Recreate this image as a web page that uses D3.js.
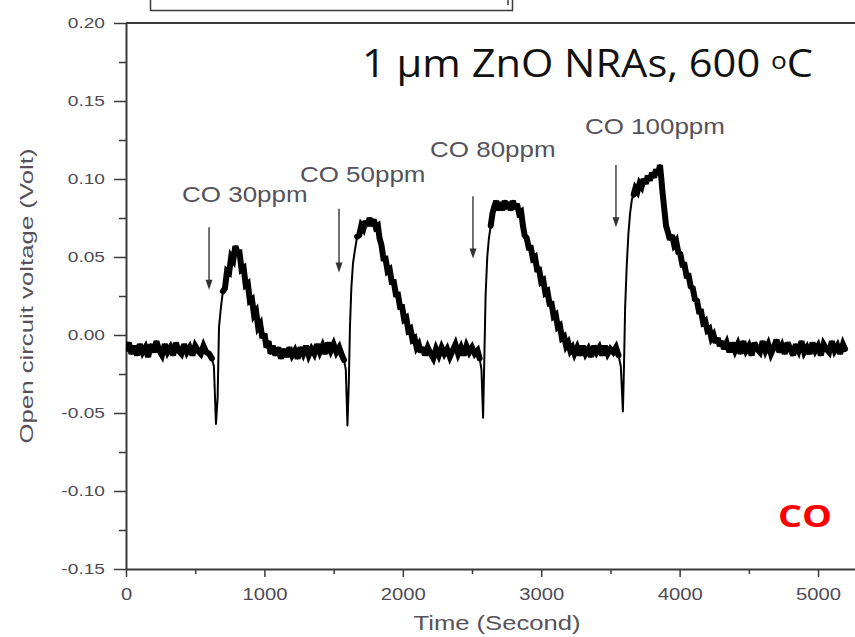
<!DOCTYPE html>
<html lang="en">
  <head>
    <meta charset='utf-8'>
    <script src='https://d3js.org/d3.v7.min.js'></script>
    <title>CO response, 1 um ZnO NRAs</title>
    <style>
      body { margin: 0px; background: #fff; }
      .axis path, .axis line { stroke: #3a3a3a; }
      .axis text {
        fill: #4e4a54;
        font-family: 'Liberation Sans', Arial, sans-serif;
      }
      .axis-label, .note {
        fill: #55525a;
        font-family: 'Liberation Sans', Arial, sans-serif;
      }
    </style>
  </head>
  <body>
    <svg id='chart' width='855' height='637'></svg>
    <script>
      // time (s), open circuit voltage (V)
      const trace = [
        [0,-.009],[20,-.005],[40,-.012],[60,-.007],[80,-.013],[100,-.006],[120,-.011],[140,-.008],
        [160,-.014],[180,-.006],[200,-.011],[220,-.004],[240,-.010],[260,-.013],[280,-.006],[300,-.011],
        [320,-.008],[340,-.013],[360,-.005],[380,-.010],[400,-.012],[420,-.006],[440,-.011],[460,-.008],
        [480,-.013],[500,-.007],[520,-.010],[540,-.012],[560,-.007],[580,-.011],[600,-.012],[620,-.015],
        [635,-.020],[650,-.057],[662,-.040],[672,.005],[685,.017],[700,.028],[715,.030],[730,.041],
        [745,.040],[760,.050],[775,.048],[790,.057],[805,.053],[820,.053],[835,.042],[850,.043],
        [865,.032],[880,.033],[895,.022],[910,.023],[925,.013],[940,.015],[955,.005],[970,.007],
        [985,-.002],[1000,.001],[1015,-.008],[1030,-.004],[1045,-.012],[1060,-.007],
        [1080,-.013],[1100,-.008],[1120,-.015],[1140,-.009],[1160,-.014],[1180,-.008],[1200,-.013],
        [1220,-.010],[1240,-.015],[1260,-.008],[1280,-.012],[1300,-.007],[1320,-.013],[1340,-.009],
        [1360,-.012],[1380,-.006],[1400,-.011],[1420,-.007],[1440,-.012],[1460,-.005],[1480,-.010],
        [1500,-.006],[1520,-.011],[1540,-.008],[1560,-.013],[1575,-.016],[1588,-.022],
        [1600,-.058],[1610,-.030],[1618,.005],[1628,.030],[1640,.046],[1655,.055],[1670,.063],
        [1685,.064],[1700,.070],[1715,.068],[1730,.073],[1745,.070],[1760,.075],[1775,.070],
        [1790,.074],[1805,.069],[1820,.070],[1832,.062],[1845,.058],[1860,.049],[1875,.049],
        [1890,.041],[1905,.042],[1920,.034],[1935,.034],[1950,.026],[1965,.026],[1980,.018],
        [1995,.018],[2010,.010],[2025,.011],[2040,.003],[2055,.004],[2070,-.003],[2085,-.002],
        [2100,-.008],[2115,-.006],[2130,-.011],[2145,-.008],
        [2160,-.013],[2180,-.008],[2200,-.012],[2220,-.015],[2240,-.009],[2260,-.013],[2280,-.008],
        [2300,-.012],[2320,-.009],[2340,-.014],[2360,-.010],[2380,-.006],[2400,-.012],[2420,-.008],
        [2440,-.013],[2460,-.007],[2480,-.011],[2500,-.008],[2520,-.012],[2540,-.010],[2555,-.015],
        [2568,-.022],[2580,-.053],[2590,-.010],[2598,.025],[2610,.050],[2622,.062],[2635,.070],
        [2648,.078],[2660,.082],[2675,.086],[2690,.080],[2705,.085],[2720,.080],[2735,.086],
        [2750,.081],[2765,.085],[2780,.080],[2795,.086],[2810,.081],[2825,.084],[2840,.078],
        [2855,.079],[2868,.070],[2880,.064],[2895,.062],[2910,.056],[2925,.056],[2940,.049],
        [2955,.050],[2970,.042],[2985,.042],[3000,.034],[3015,.035],[3030,.027],[3045,.028],
        [3060,.020],[3075,.020],[3090,.012],[3105,.013],[3120,.005],[3135,.006],[3150,-.002],
        [3165,-.001],[3180,-.007],[3195,-.005],[3210,-.010],[3225,-.008],[3240,-.012],
        [3260,-.008],[3280,-.013],[3300,-.007],[3320,-.012],[3340,-.009],[3360,-.014],[3380,-.007],
        [3400,-.011],[3420,-.008],[3440,-.013],[3460,-.007],[3480,-.012],[3500,-.009],[3520,-.011],
        [3540,-.008],[3558,-.013],[3575,-.020],
        [3590,-.049],[3598,-.020],[3606,.017],[3618,.045],[3630,.065],[3642,.078],[3655,.087],
        [3668,.090],[3680,.094],[3695,.092],[3710,.097],[3725,.095],[3740,.100],[3755,.097],
        [3770,.102],[3785,.099],[3800,.104],[3815,.101],[3830,.106],[3845,.103],[3858,.109],
        [3868,.100],[3878,.090],[3890,.080],[3902,.070],[3915,.066],[3930,.061],[3945,.064],
        [3960,.058],[3975,.060],[3990,.053],[4005,.052],[4020,.045],[4035,.045],[4050,.038],
        [4065,.038],[4080,.031],[4095,.030],[4110,.023],[4125,.022],[4140,.015],[4155,.015],
        [4170,.008],[4185,.009],[4200,.003],[4215,.004],[4230,-.002],[4245,.000],[4260,-.005],
        [4275,-.002],[4290,-.007],[4305,-.004],[4320,-.009],[4340,-.005],
        [4360,-.011],[4380,-.005],[4400,-.010],[4420,-.006],[4440,-.012],[4460,-.004],[4480,-.010],
        [4500,-.007],[4520,-.013],[4540,-.005],[4560,-.009],[4580,-.011],[4600,-.004],[4620,-.010],
        [4640,-.006],[4660,-.012],[4680,-.008],[4700,-.003],[4720,-.011],[4740,-.007],[4760,-.012],
        [4780,-.005],[4800,-.009],[4820,-.013],[4840,-.006],[4860,-.010],[4880,-.004],[4900,-.011],
        [4920,-.008],[4940,-.012],[4960,-.005],[4980,-.010],[5000,-.007],[5020,-.013],[5040,-.006],
        [5060,-.009],[5080,-.011],[5100,-.004],[5120,-.010],[5140,-.007],[5160,-.012],[5180,-.006],
        [5195,-.009]
      ];

      // time windows (s) where the recorded trace is a thick noise band
      const noisyWindows = [[0, 625], [700, 1578], [1660, 2560], [2628, 3570], [3660, 5200]];

      // gas pulses: label, label start (s), label baseline (V), arrow time (s), arrow top / tip (V)
      const noteLabels = ['CO 30ppm', 'CO 50ppm', 'CO 80ppm', 'CO 100ppm'];
      const noteTime   = [405, 1257, 2197, 3316];
      const noteValue  = [0.085, 0.098, 0.114, 0.129];
      const arrowTime  = [600, 1539, 2507, 3540];
      const arrowTop   = [0.069, 0.081, 0.089, 0.109];
      const arrowTip   = [0.029, 0.040, 0.049, 0.069];

      const yMajor = [-0.15, -0.10, -0.05, 0.00, 0.05, 0.10, 0.15, 0.20];
      const yMinor = [-0.125, -0.075, -0.025, 0.025, 0.075, 0.125, 0.175];
      const xMajor = [0, 1000, 2000, 3000, 4000, 5000];
      const xMinor = [500, 1500, 2500, 3500, 4500];

      const title = '1 \u03bcm ZnO NRAs, 600 ';
      const xLabel = 'Time (Second)';
      const yLabel = 'Open circuit voltage (Volt)';
      const gasLabel = 'CO';

      const svg = d3.select('#chart');
      const plotLeft = 126, plotRight = 855, plotTop = 23, plotBottom = 569;

      const x = d3.scaleLinear().domain([0, 5267]).range([plotLeft, plotRight]);
      const y = d3.scaleLinear().domain([-0.15, 0.20]).range([plotBottom, plotTop]);

      // origin fonts look wider than arial, stretch them a bit
      function stretch(sel, k) {
        sel.each(function() {
          const w = this.getComputedTextLength();
          d3.select(this)
            .attr('textLength', w * k)
            .attr('lengthAdjust', 'spacingAndGlyphs');
        });
      }

      // cut-off legend box at the very top
      svg.append('rect')
        .attr('x', 150.5).attr('y', -5)
        .attr('width', 362).attr('height', 15.5)
        .attr('fill', 'none')
        .attr('stroke', '#3a3a3a')
        .attr('stroke-width', 1.5);
      svg.append('line')
        .attr('x1', 508).attr('x2', 508).attr('y1', 0).attr('y2', 5)
        .attr('stroke', '#3a3a3a').attr('stroke-width', 1.5);

      // axes
      const yAxisG = svg.append('g').attr('class', 'axis')
        .attr('transform', `translate(${plotLeft},0)`)
        .call(d3.axisLeft(y).tickValues(yMajor).tickSize(12).tickPadding(9)
          .tickSizeOuter(0).tickFormat(d => d.toFixed(2)));
      svg.append('g').attr('class', 'axis')
        .attr('transform', `translate(${plotLeft},0)`)
        .call(d3.axisLeft(y).tickValues(yMinor).tickSize(7).tickSizeOuter(0).tickFormat(''))
        .select('.domain').remove();

      const xAxisG = svg.append('g').attr('class', 'axis')
        .attr('transform', `translate(0,${plotBottom})`)
        .call(d3.axisBottom(x).tickValues(xMajor).tickSize(8).tickPadding(11)
          .tickSizeOuter(0).tickFormat(d3.format('d')));
      svg.append('g').attr('class', 'axis')
        .attr('transform', `translate(0,${plotBottom})`)
        .call(d3.axisBottom(x).tickValues(xMinor).tickSize(5).tickSizeOuter(0).tickFormat(''))
        .select('.domain').remove();

      svg.selectAll('.axis .domain').attr('stroke-width', 2);
      svg.selectAll('.axis .tick line').attr('stroke-width', 1.5);

      yAxisG.selectAll('text').attr('font-size', 14.5);
      stretch(yAxisG.selectAll('text'), 1.32);
      xAxisG.selectAll('text').attr('font-size', 17);
      stretch(xAxisG.selectAll('text'), 1.19);

      // top frame
      svg.append('line')
        .attr('x1', plotLeft).attr('x2', plotRight)
        .attr('y1', plotTop).attr('y2', plotTop)
        .attr('stroke', '#3a3a3a').attr('stroke-width', 2);

      // axis titles
      svg.append('text')
        .attr('class', 'axis-label')
        .attr('x', 497).attr('y', 630)
        .attr('text-anchor', 'middle')
        .attr('font-size', 21)
        .attr('textLength', 167).attr('lengthAdjust', 'spacingAndGlyphs')
        .text(xLabel);

      svg.append('text')
        .attr('class', 'axis-label')
        .attr('transform', 'translate(33,296) rotate(-90)')
        .attr('text-anchor', 'middle')
        .attr('font-size', 19)
        .attr('textLength', 295).attr('lengthAdjust', 'spacingAndGlyphs')
        .text(yLabel);

      // signal
      svg.append('defs').append('clipPath').attr('id', 'plot')
        .append('rect')
        .attr('x', plotLeft).attr('y', plotTop)
        .attr('width', plotRight - plotLeft).attr('height', plotBottom - plotTop);

      const line = d3.line()
        .x(d => x(d[0]))
        .y(d => y(d[1]));

      const traceG = svg.append('g').attr('clip-path', 'url(#plot)');

      // thin line for the whole record (sharp dips and rises stay thin)
      traceG.append('path')
        .datum(trace)
        .attr('fill', 'none')
        .attr('stroke', '#000')
        .attr('stroke-width', 2)
        .attr('stroke-linejoin', 'round')
        .attr('d', line);

      // heavier stroke where the signal is a dense noise band
      traceG.selectAll('.band')
        .data(noisyWindows.map(w => trace.filter(d => d[0] >= w[0] && d[0] <= w[1])))
        .enter().append('path')
        .attr('class', 'band')
        .attr('fill', 'none')
        .attr('stroke', '#000')
        .attr('stroke-width', 6)
        .attr('stroke-linejoin', 'miter')
        .attr('stroke-miterlimit', 3)
        .attr('stroke-linecap', 'round')
        .attr('d', line);

      // arrows + gas labels
      const notes = noteLabels.map((label, i) => ({
        label, t: noteTime[i], v: noteValue[i],
        at: arrowTime[i], top: arrowTop[i], tip: arrowTip[i]
      }));

      const noteG = svg.selectAll('.note-g').data(notes).enter().append('g');

      noteG.append('line')
        .attr('x1', d => x(d.at)).attr('x2', d => x(d.at))
        .attr('y1', d => y(d.top)).attr('y2', d => y(d.tip) - 6)
        .attr('stroke', '#333').attr('stroke-width', 1.4);

      noteG.append('path')
        .attr('d', d => {
          const ax = x(d.at), ay = y(d.tip);
          return `M${ax - 3.5},${ay - 10}L${ax + 3.5},${ay - 10}L${ax},${ay}Z`;
        })
        .attr('fill', '#333');

      const noteText = noteG.append('text')
        .attr('class', 'note')
        .attr('x', d => x(d.t))
        .attr('y', d => y(d.v))
        .attr('font-size', 22)
        .text(d => d.label);
      stretch(noteText, 1.18);

      // panel title
      const titleText = svg.append('text')
        .attr('x', 362).attr('y', 77)
        .attr('font-family', "'Open Sans', sans-serif")
        .attr('font-size', 38)
        .attr('fill', '#111');
      titleText.append('tspan').text(title);
      titleText.append('tspan').attr('font-size', 24).attr('dy', -8).text('o');
      titleText.append('tspan').attr('dy', 8).text('C');
      titleText.attr('textLength', 451).attr('lengthAdjust', 'spacingAndGlyphs');

      svg.append('text')
        .attr('x', 778).attr('y', 527)
        .attr('font-family', "'Open Sans', sans-serif")
        .attr('font-weight', 700)
        .attr('font-size', 30)
        .attr('fill', '#ff0000')
        .attr('textLength', 54).attr('lengthAdjust', 'spacingAndGlyphs')
        .text(gasLabel);
    </script>
  </body>
</html>
